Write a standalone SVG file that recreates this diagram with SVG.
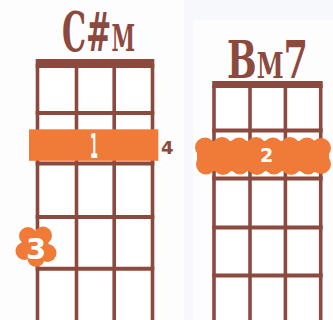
<svg xmlns="http://www.w3.org/2000/svg" width="333" height="320" viewBox="0 0 333 320">
<style>
.bg{fill:#f6f8fb}
.panel{fill:#fdfdfe}
.str{stroke:#8c4a3e;stroke-width:3.6;fill:none}
.fret{stroke:#8c4a3e;stroke-width:4;fill:none}
.nut{fill:#8c4a3e}
.cell{fill:#ffffff}
.orange{fill:#f07a38}
.title{font-family:"DejaVu Serif Condensed","DejaVu Serif","Liberation Serif",serif;font-weight:bold;fill:#8c4a3e;font-variant:small-caps;text-anchor:middle}
.fw{font-family:"DejaVu Sans","Liberation Sans",sans-serif;font-weight:bold;fill:#ffffff;text-anchor:middle}
.fr{font-family:"DejaVu Sans","Liberation Sans",sans-serif;font-weight:bold;fill:#8c4a3e}
</style>
<rect class="bg" x="0" y="0" width="333" height="320"/>
<rect class="panel" x="0" y="0" width="184" height="320"/>
<rect class="panel" x="193" y="20" width="140" height="300"/>

<g id="chord-csharp-m">
  <rect class="cell" x="37.5" y="64" width="115" height="256"/>
  <rect class="nut" x="35.7" y="59" width="118.6" height="9"/>
  <line class="str" x1="37.5" y1="64" x2="37.5" y2="320"/>
  <line class="str" x1="76.5" y1="64" x2="76.5" y2="320"/>
  <line class="str" x1="114.2" y1="64" x2="114.2" y2="320"/>
  <line class="str" x1="152.5" y1="64" x2="152.5" y2="320"/>
  <line class="fret" x1="35.7" y1="113" x2="154.3" y2="113"/>
  <line class="fret" x1="35.7" y1="163.5" x2="154.3" y2="163.5"/>
  <line class="fret" x1="35.7" y1="217" x2="154.3" y2="217"/>
  <line class="fret" x1="35.7" y1="268.7" x2="154.3" y2="268.7"/>
  <text class="title" x="98.5" y="51" font-size="54" textLength="73" lengthAdjust="spacingAndGlyphs">C#m</text>
  <g id="barre-1">
    <rect class="orange" x="29" y="129.3" width="129.3" height="31.5"/>
    <text class="fw" x="94" y="158" font-size="34" textLength="8" lengthAdjust="spacingAndGlyphs">1</text>
  </g>
  <text class="fr" x="161" y="153.5" font-size="18">4</text>
  <g id="finger-3">
    <circle class="orange" cx="36" cy="247" r="13"/>
    <circle class="orange" cx="28" cy="236" r="9"/>
    <circle class="orange" cx="43" cy="235.5" r="9"/>
    <circle class="orange" cx="47.5" cy="253" r="9"/>
    <circle class="orange" cx="36" cy="258.5" r="8.5"/>
    <circle class="orange" cx="24.5" cy="251" r="9"/>
    <text class="fw" x="36" y="259" font-size="29">3</text>
  </g>
</g>

<g id="chord-bm7">
  <rect class="cell" x="214" y="85" width="106.5" height="235"/>
  <rect class="nut" x="212.2" y="81" width="110.5" height="7"/>
  <line class="str" x1="214" y1="85" x2="214" y2="320"/>
  <line class="str" x1="250" y1="85" x2="250" y2="320"/>
  <line class="str" x1="285.4" y1="85" x2="285.4" y2="320"/>
  <line class="str" x1="320.7" y1="85" x2="320.7" y2="320"/>
  <line class="fret" x1="212.2" y1="130.5" x2="322.7" y2="130.5"/>
  <line class="fret" x1="212.2" y1="178.5" x2="322.7" y2="178.5"/>
  <line class="fret" x1="212.2" y1="227.5" x2="322.7" y2="227.5"/>
  <line class="fret" x1="212.2" y1="275.5" x2="322.7" y2="275.5"/>
  <text class="title" x="267.5" y="77.5" font-size="52" textLength="81" lengthAdjust="spacingAndGlyphs">Bm7</text>
  <g id="barre-2">
    <rect class="orange" x="197" y="141" width="132" height="30" rx="12"/>
    <circle class="orange" cx="205" cy="147.5" r="10"/>
    <circle class="orange" cx="222" cy="147" r="10"/>
    <circle class="orange" cx="239" cy="147.5" r="10"/>
    <circle class="orange" cx="256" cy="147" r="10"/>
    <circle class="orange" cx="273" cy="147.5" r="10"/>
    <circle class="orange" cx="290" cy="147" r="10"/>
    <circle class="orange" cx="307" cy="147.5" r="10"/>
    <circle class="orange" cx="321" cy="148" r="10"/>
    <circle class="orange" cx="206" cy="164.5" r="10"/>
    <circle class="orange" cx="223" cy="165" r="10"/>
    <circle class="orange" cx="240" cy="164.5" r="10"/>
    <circle class="orange" cx="257" cy="165" r="10"/>
    <circle class="orange" cx="274" cy="164.5" r="10"/>
    <circle class="orange" cx="291" cy="165" r="10"/>
    <circle class="orange" cx="308" cy="164.5" r="10"/>
    <circle class="orange" cx="321" cy="164" r="10"/>
    <text class="fw" x="266.5" y="162" font-size="19">2</text>
  </g>
</g>
</svg>
